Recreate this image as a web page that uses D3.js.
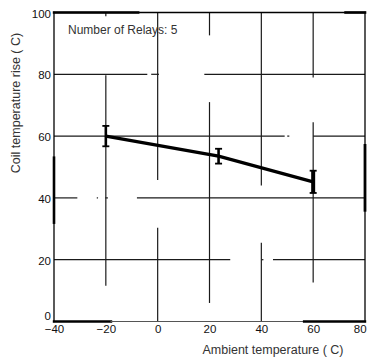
<!DOCTYPE html>
<html>
<head>
<meta charset="utf-8">
<script src="https://cdn.jsdelivr.net/npm/d3@7"></script>
<style>
  html, body { margin: 0; padding: 0; background: #fff; }
  svg { display: block; }
  text { font-family: "Liberation Sans", Arial, Helvetica, sans-serif; }
</style>
</head>
<body>
<svg id="chart" width="368" height="360"></svg>
<script>
// ---- data ----
const xTicks = [-40, -20, 0, 20, 40, 60, 80];
const yTicks = [0, 20, 40, 60, 80, 100];
const ambient = [-20, 23.5, 60];
const riseMean = [60, 53.5, 45.2];
const riseErr = [3.3, 2.4, 3.6];
const annotation = "Number of Relays: 5";
const xTitle = "Ambient temperature ( C)";
const yTitle = "Coil temperature rise ( C)";

// broken (scanned) grid segments, in data units
const hGridY  = [80, 80, 80, 60, 60, 60, 40, 40, 40, 40, 20, 20, 20];
const hGridX0 = [-40, -2.5, 18, -40, 50, 60, -40, -23.5, -20.2, -8, -40, 40, 44.5];
const hGridX1 = [-4, 0.5, 80, 49, 50.8, 80, -31, -23, -19.2, 80, 28, 40.8, 80];
const vGridX  = [-20, -20, 0, 0, 20, 20, 40, 40, 60, 60];
const vGridY0 = [11.6, 98.8, 45.8, 0, 92.6, 6, 44, 0, 79, 12.6];
const vGridY1 = [79.7, 100, 100, 30.3, 100, 71, 100, 25.5, 100, 64.5];

// frame pieces
const frameX0 = [-40, -40, 80, -40, -40, -40, 72.5, -40, -18, 56.5, 80];
const frameY0 = [0, 32, 0, 100, 100, 0, 100, 0, 0, 0, 36];
const frameX1 = [-40, -40, 80, 80, -7.5, 80, 80, -18, 56.5, 80, 80];
const frameY1 = [100, 53, 100, 100, 100, 0, 100, 0, 0, 0, 57];
const frameW  = [1.3, 2.6, 1.3, 1.3, 2.4, 1.2, 2.6, 2.4, 1.2, 2.4, 2.8];

// ---- chart ----
const svg = d3.select("#chart");
const x = d3.scaleLinear().domain([-40, 80]).range([54, 365]);
const y = d3.scaleLinear().domain([0, 100]).range([321.5, 12.5]);

// grid
const hg = hGridY.map((v, i) => ({ y: v, x0: hGridX0[i], x1: hGridX1[i] }));
svg.append("g").selectAll("line").data(hg).join("line")
  .attr("x1", d => x(d.x0)).attr("x2", d => x(d.x1))
  .attr("y1", d => y(d.y)).attr("y2", d => y(d.y))
  .attr("stroke", "#1a1a1a").attr("stroke-width", 1.2);
const vg = vGridX.map((v, i) => ({ x: v, y0: vGridY0[i], y1: vGridY1[i] }));
svg.append("g").selectAll("line").data(vg).join("line")
  .attr("x1", d => x(d.x)).attr("x2", d => x(d.x))
  .attr("y1", d => y(d.y0)).attr("y2", d => y(d.y1))
  .attr("stroke", "#1a1a1a").attr("stroke-width", 1.2);

// frame
const fr = frameX0.map((v, i) => ({ x0: v, y0: frameY0[i], x1: frameX1[i], y1: frameY1[i], w: frameW[i] }));
svg.append("g").selectAll("line").data(fr).join("line")
  .attr("x1", d => x(d.x0)).attr("x2", d => x(d.x1))
  .attr("y1", d => y(d.y0)).attr("y2", d => y(d.y1))
  .attr("stroke", (d, i) => (i === 5 || i === 8) ? "#555" : "#000")
  .attr("stroke-width", d => d.w).attr("stroke-linecap", "square");

// axes (labels only)
const yAxis = svg.append("g").attr("transform", `translate(${x(-40)},0)`)
  .call(d3.axisLeft(y).tickValues(yTicks).tickSize(0).tickPadding(3));
yAxis.select(".domain").remove();
yAxis.selectAll("text")
  .attr("font-size", 11.5).attr("fill", "#111")
  .attr("dy", d => d === 0 ? "-0.2em" : "0.4em");

const xAxis = svg.append("g").attr("transform", `translate(0,${y(0)})`)
  .call(d3.axisBottom(x).tickValues(xTicks).tickSize(0).tickPadding(3));
xAxis.select(".domain").remove();
xAxis.selectAll("text")
  .attr("font-size", 11.5).attr("fill", "#111")
  .attr("text-anchor", d => d === 80 ? "end" : "middle")
  .attr("dx", d => d === 80 ? "0.1em" : 0);
svg.selectAll(".tick text").attr("font-family", "'Liberation Sans', Arial, sans-serif");

// data line
const pts = ambient.map((v, i) => ({ x: v, m: riseMean[i], e: riseErr[i] }));
svg.append("path").datum(pts)
  .attr("d", d3.line().x(d => x(d.x)).y(d => y(d.m)))
  .attr("fill", "none").attr("stroke", "#000").attr("stroke-width", 3.2);

// error bars
const eb = svg.append("g");
eb.selectAll("line.bar").data(pts).join("line").attr("class", "bar")
  .attr("x1", d => x(d.x)).attr("x2", d => x(d.x))
  .attr("y1", d => y(d.m - d.e)).attr("y2", d => y(d.m + d.e))
  .attr("stroke", "#000").attr("stroke-width", (d, i) => i === 2 ? 4 : 2.6);
eb.selectAll("line.capT").data(pts).join("line").attr("class", "capT")
  .attr("x1", d => x(d.x) - 3.5).attr("x2", d => x(d.x) + 3.5)
  .attr("y1", d => y(d.m + d.e)).attr("y2", d => y(d.m + d.e))
  .attr("stroke", "#000").attr("stroke-width", 1.8);
eb.selectAll("line.capB").data(pts).join("line").attr("class", "capB")
  .attr("x1", d => x(d.x) - 3.5).attr("x2", d => x(d.x) + 3.5)
  .attr("y1", d => y(d.m - d.e)).attr("y2", d => y(d.m - d.e))
  .attr("stroke", "#000").attr("stroke-width", 1.8);

// annotation
svg.append("text").attr("x", 68).attr("y", 33.5)
  .attr("font-size", 12).attr("fill", "#333").text(annotation);

// titles
svg.append("text").attr("x", 273).attr("y", 354)
  .attr("text-anchor", "middle").attr("font-size", 12.5).attr("fill", "#333")
  .text(xTitle);
svg.append("text").attr("transform", "translate(20,103) rotate(-90)")
  .attr("text-anchor", "middle").attr("font-size", 12.5).attr("fill", "#333")
  .text(yTitle);
</script>
</body>
</html>
